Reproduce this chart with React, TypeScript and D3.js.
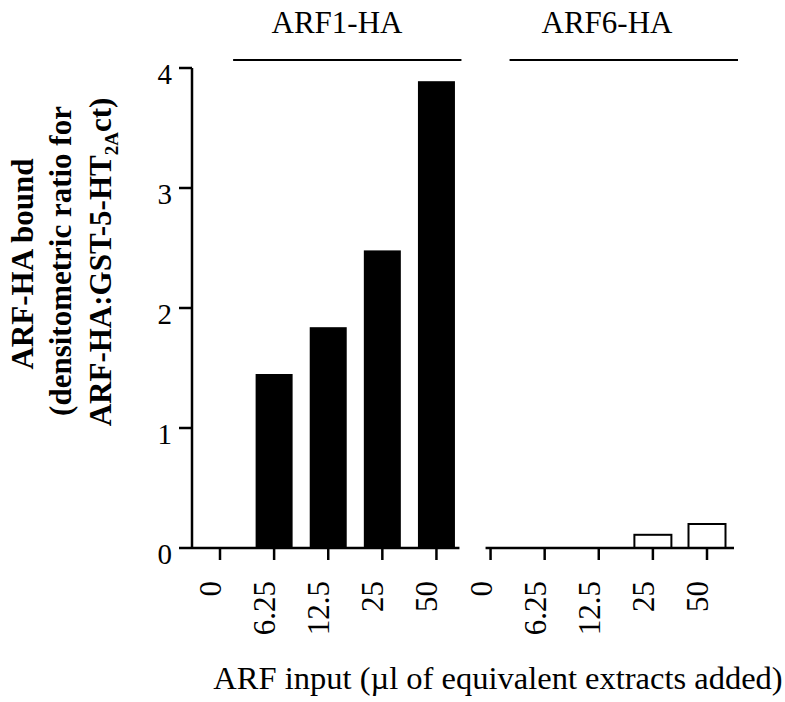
import React from 'react'
import { scalePoint, scaleLinear } from 'd3'

// values
const doses = ['0', '6.25', '12.5', '25', '50']
const arf1Bound = [0, 1.45, 1.84, 2.48, 3.89]
const arf6Bound = [0, 0, 0, 0.11, 0.2]
const yTicks = [0, 1, 2, 3, 4]
const groups = ['ARF1-HA', 'ARF6-HA']

const W = 785
const H = 702
const serif = 'Liberation Serif'

const keys = groups.flatMap(g => doses.map(d => `${g}|${d}`))

const App = () => {
    const x = scalePoint<string>().domain(keys).range([220, 707])
    const y = scaleLinear().domain([0, 4]).range([548, 68])
    const barW = 37
    const axisX = 192
    const y0 = y(0)

    const bars = [
        ...doses.map((d, i) => ({ key: `${groups[0]}|${d}`, v: arf1Bound[i], filled: true })),
        ...doses.map((d, i) => ({ key: `${groups[1]}|${d}`, v: arf6Bound[i], filled: false })),
    ]

    // panel extents derived from the tick positions
    const lastL = x(`${groups[0]}|50`)!
    const firstR = x(`${groups[1]}|0`)!
    const lastR = x(`${groups[1]}|50`)!
    const axes = [
        [axisX, lastL + 23],
        [firstR - 5, lastR + 27],
    ]
    const headers = [
        { label: groups[0], x1: x(`${groups[0]}|6.25`)! - 41, x2: lastL + 25, cx: 337 },
        { label: groups[1], x1: firstR + 19, x2: lastR + 31, cx: 607 },
    ]

    return (
        <svg width={W} height={H}
            style={{ position: 'absolute', left: 0, top: 0, background: 'white' }}>
            {/* group headers */}
            {headers.map(h => (
                <g key={h.label}>
                    <text x={h.cx} y={33} fontSize={31} fontFamily={serif} textAnchor="middle">{h.label}</text>
                    <line x1={h.x1} x2={h.x2} y1={60} y2={60} stroke="black" strokeWidth={1.8} />
                </g>
            ))}

            {/* bars */}
            {bars.map(b => (
                b.v > 0 && <rect key={b.key}
                    x={x(b.key)! - barW / 2} width={barW}
                    y={y(b.v)} height={y0 - y(b.v)}
                    fill={b.filled ? 'black' : 'white'}
                    stroke="black" strokeWidth={b.filled ? 0 : 2} />
            ))}

            {/* y axis */}
            <line x1={axisX} x2={axisX} y1={y(4)} y2={y0} stroke="black" strokeWidth={2.5} />
            {yTicks.map(t => (
                <g key={t}>
                    <line x1={axisX - 13} x2={axisX} y1={y(t)} y2={y(t)} stroke="black" strokeWidth={2.5} />
                    <text x={172} y={y(t)} dy="0.55em" fontSize={29} fontFamily={serif}
                        textAnchor="end">{t}</text>
                </g>
            ))}

            {/* x axes */}
            {axes.map(([a, b], i) => (
                <line key={i} x1={a} x2={b} y1={y0} y2={y0} stroke="black" strokeWidth={2.5} />
            ))}
            {keys.map(k => (
                <g key={k}>
                    <line x1={x(k)} x2={x(k)} y1={y0} y2={y0 + 12} stroke="black" strokeWidth={2.5} />
                    <text transform={`translate(${x(k)! + 1},581) rotate(-90)`} fontSize={31}
                        fontFamily={serif} textAnchor="end">{k.split('|')[1]}</text>
                </g>
            ))}

            {/* axis titles */}
            <text x={498} y={689} fontSize={32.5} fontFamily={serif} textAnchor="middle">
                ARF input (µl of equivalent extracts added)
            </text>
            <g transform="rotate(-90)" fontSize={31} fontWeight="bold" fontFamily={serif} textAnchor="middle">
                <text x={-264} y={33}>ARF-HA bound</text>
                <text x={-261} y={71}>(densitometric ratio for</text>
                <text x={-262} y={111}>
                    ARF-HA:GST-5-HT<tspan fontSize={19} dy={7}>2A</tspan><tspan dy={-7}>ct)</tspan>
                </text>
            </g>
        </svg>
    )
}

export default App
